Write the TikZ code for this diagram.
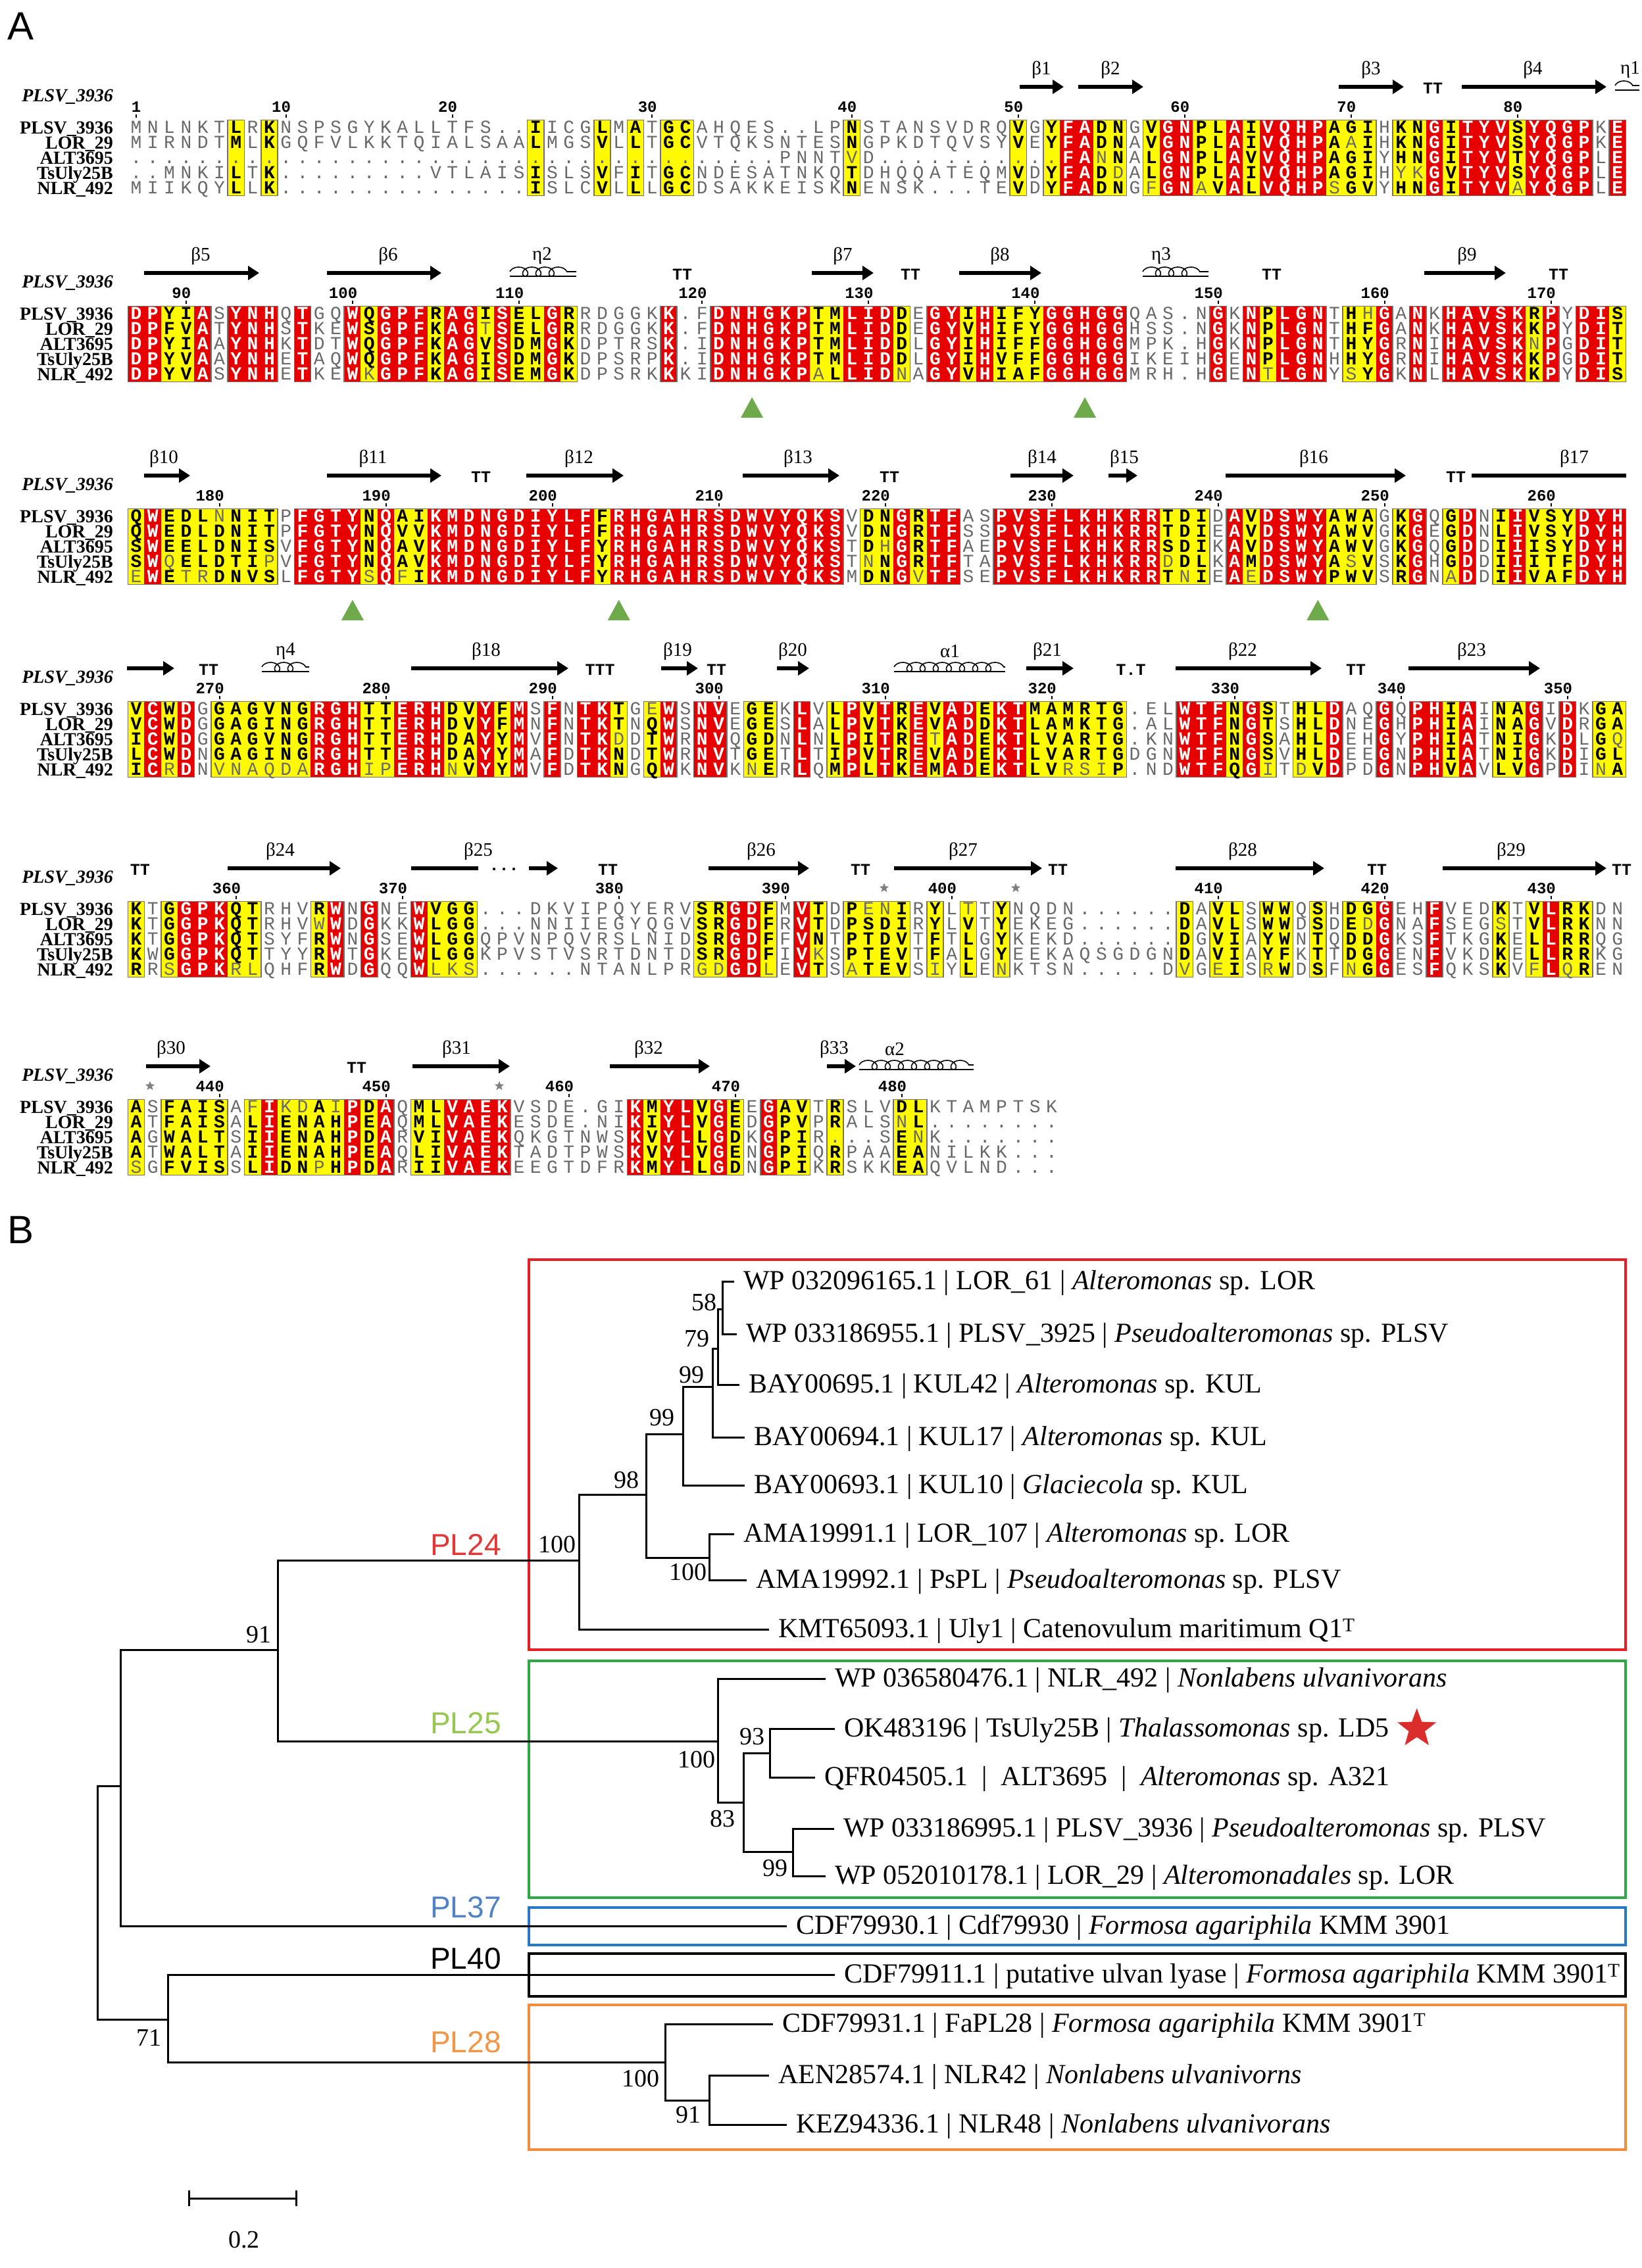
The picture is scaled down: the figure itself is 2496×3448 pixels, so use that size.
\documentclass[tikz,border=0pt]{standalone}
\usepackage{fontspec}
\setmainfont{Liberation Serif}
\newfontfamily\alnmono{Liberation Mono}
\newfontfamily\alnsans{Liberation Sans}
\usetikzlibrary{arrows.meta,decorations.pathmorphing,shapes.geometric}

\definecolor{alnred}{RGB}{230,0,0}
\definecolor{alnyel}{RGB}{255,250,0}
\definecolor{alnfr}{RGB}{120,110,110}
\definecolor{alngrey}{RGB}{105,105,105}
\definecolor{trigreen}{RGB}{110,170,75}
\definecolor{bxred}{RGB}{228,32,38}
\definecolor{bxgreen}{RGB}{45,170,70}
\definecolor{bxblue}{RGB}{40,120,200}
\definecolor{bxorange}{RGB}{240,140,60}
\definecolor{plred}{RGB}{225,55,55}
\definecolor{plgreen}{RGB}{150,200,80}
\definecolor{plblue}{RGB}{80,130,200}
\definecolor{plorange}{RGB}{240,150,70}
\definecolor{starred}{RGB}{220,45,45}

\makeatletter
\newcount\alncol
\newcount\alnrun
\def\alnY{0}
\def\alnpitch{25.3}
\def\alnxz{207}
% ---- column backgrounds and frames
\def\alnbg#1#2{\def\alnY{#1}\alncol=0 \alnrun=0 \alnbg@loop#2\@nil}
\def\alnbg@loop#1#2\@nil{%
  \advance\alncol by 1
  \if#1R\alnbg@fill{alnred}\alnbg@in\else
    \if#1Y\alnbg@fill{alnyel}\alnbg@in\else\alnbg@out\fi
  \fi
  \ifx\relax#2\relax
    \advance\alncol by 1 \alnbg@out
    \expandafter\@gobble
  \else\expandafter\@firstofone\fi
  {\alnbg@loop#2\@nil}}
\def\alnbg@fill#1{\fill[#1] ({\alnxz+(\the\alncol-1)*\alnpitch-12.9},{\alnY-11.6}) rectangle ({\alnxz+(\the\alncol-1)*\alnpitch+12.9},{\alnY+103.6});}
\def\alnbg@in{\ifnum\alnrun=0 \alnrun=\alncol\fi}
\def\alnbg@out{\ifnum\alnrun>0
  \draw[alnframe] ({\alnxz+(\the\alnrun-1)*\alnpitch-12.65},{\alnY-11.5}) rectangle ({\alnxz+(\the\alncol-2)*\alnpitch+12.65},{\alnY+103.5});
  \alnrun=0 \fi}
% ---- residues
\def\alnseq#1#2#3{\def\alnY{#1}\alncol=0 \alnseq@loop#2\@nil#3----------\@nil}
\def\alnseq@loop#1#2\@nil#3#4\@nil{%
  \advance\alncol by 1
  \alncell{#1}{#3}%
  \ifx\relax#2\relax\expandafter\@gobble\else\expandafter\@firstofone\fi
  {\alnseq@loop#2\@nil#4\@nil}}
\def\alncell#1#2{%
  \def\alnsty{alnN}%
  \if#2R\def\alnsty{alnR}\fi
  \if#2Y\ifnum`#1>96 \else\def\alnsty{alnB}\fi\fi
  \if.#1\def\alnsty{alnN}\fi
  \uppercase{\def\alnch{#1}}%
  \expandafter\alnput\expandafter{\alnsty}}
\def\alnput#1{\node[#1] at ({\alnxz+(\the\alncol-1)*\alnpitch},{\alnY+8.5}) {\alnch};}
\makeatother

\newcommand\alnblock[7]{%
  \alnbg{#1}{#2}%
  \alnseq{#1}{#3}{#2}%
  \alnseq{#1+23}{#4}{#2}%
  \alnseq{#1+46}{#5}{#2}%
  \alnseq{#1+69}{#6}{#2}%
  \alnseq{#1+92}{#7}{#2}%
  \node[rowlab] at (172,{#1+9}) {PLSV\_3936};
  \node[rowlab] at (172,{#1+32}) {LOR\_29};
  \node[rowlab] at (172,{#1+55}) {ALT3695};
  \node[rowlab] at (172,{#1+78}) {TsUly25B};
  \node[rowlab] at (172,{#1+101}) {NLR\_492};
  \node[hdrname] at (172,{#1-40}) {PLSV\_3936};
}
\newcommand\sstrand[5]{\draw[strand] (#2,{#1-62}) -- (#3,{#1-62}); \node[sslab] at (#4,{#1-88}) {#5};}
\newcommand\sarrow[3]{\draw[strand] (#2,{#1-62}) -- (#3,{#1-62});}
\newcommand\sline[3]{\draw[strandline] (#2,{#1-62}) -- (#3,{#1-62});}
\newcommand\shelix[5]{\draw[helix] (#2,{#1-64}) -- (#3,{#1-64});
  \draw[line width=1.4pt] (#2,{#1-57}) -- (#3,{#1-57});
  \node[sslab] at (#4,{#1-88}) {#5};}
\newcommand\sturn[3]{\node[turn] at (#2,{#1-60}) {#3};}
\newcommand\snum[3]{\node[numlab] at ({207+(#2-1)*25.3+7.5},{#1-24}) {#3};
  \draw[alntick] ({207+(#2-1)*25.3},{#1-20}) -- ({207+(#2-1)*25.3},{#1-15});}
\newcommand\sstar[2]{\node[star, star points=5, star point ratio=2.3, fill=gray, inner sep=0pt, minimum size=15pt] at (#2,{#1-32}) {};}
\newcommand\stri[2]{\fill[trigreen] ({207+(#2-1)*25.3-17},{#1+158}) -- ({207+(#2-1)*25.3+17},{#1+158}) -- ({207+(#2-1)*25.3},{#1+127}) -- cycle;}

\begin{document}
\begin{tikzpicture}[x=1pt,y=-1pt,
  alnR/.style={anchor=base, inner sep=0pt, text=white, font=\alnmono\bfseries\fontsize{28}{28}\selectfont},
  alnB/.style={anchor=base, inner sep=0pt, text=black, font=\alnmono\bfseries\fontsize{28}{28}\selectfont},
  alnN/.style={anchor=base, inner sep=0pt, text=alngrey, font=\alnmono\fontsize{28}{28}\selectfont},
  alnframe/.style={draw=alnfr, line width=1.6pt},
  rowlab/.style={anchor=base east, inner sep=0pt, font=\bfseries\fontsize{28}{28}\selectfont},
  hdrname/.style={anchor=base east, inner sep=0pt, font=\bfseries\itshape\fontsize{28}{28}\selectfont},
  strand/.style={line width=6pt, -{Triangle[length=17pt,width=21pt]}},
  strandline/.style={line width=6pt},
  helix/.style={line width=1.6pt, decorate, decoration={coil, aspect=1.2, segment length=20pt, amplitude=7pt}},
  sslab/.style={inner sep=0pt, font=\fontsize{29}{29}\selectfont},
  turn/.style={inner sep=0pt, font=\alnmono\bfseries\fontsize{25}{25}\selectfont},
  numlab/.style={anchor=base east, inner sep=0pt, font=\alnmono\bfseries\fontsize{24}{24}\selectfont},
  alntick/.style={line width=2pt},
  branch/.style={line width=3pt, line cap=rect},
  leaf/.style={anchor=west, inner sep=0pt, text height=30pt, text depth=6pt, font=\fontsize{42}{42}\selectfont},
  boot/.style={inner sep=0pt, font=\fontsize{38}{38}\selectfont},
  clade/.style={inner sep=0pt, font=\alnsans\fontsize{46}{46}\selectfont},
  cladebox/.style={line width=4pt},
  panel/.style={inner sep=0pt, font=\alnsans\fontsize{60}{60}\selectfont}
]
\useasboundingbox (0,0) rectangle (2496,3448);
\fill[white] (0,0) rectangle (2496,3448);

\node[panel] (pA) at (32,40) {A};
\node[panel] (pB) at (32,1870) {B};

% ================= Block 1
\alnblock{194}
{------Y-Y- ---------- ----Y---Y- Y-YY------ ---Y------ ---Y-YRRYY -YRRYYRYRR RRYYY-YYRY RRRYRRRR-R}
{MNLNKTLRKN SPSGYKALLT FS..IICGLM ATGCAHQES. .LPNSTANSV DRQVGYFADN GVGNPLAIVQ HPAGIHKNGI TYVSYQGPKE}
{MIRNDTMLKG QFVLKKTQIA LSAALMGSVL LTGCVTQKSN TESNGPKDTQ VSYVEYFADN AVGNPLAIVQ HPAaIHKNGI TYVSYQGPKE}
{.......... .......... .......... .........P NNTvD..... ......FAnN ALGNPLAVVQ HPAGIYHNGI TYVTYQGPLE}
{..MNKILTK. ........VT LAISISLSVF ITGCNDESAT NKQTDHQQAT EQMVDYFADd ALGNPLAIVQ HPAGIHykGV TYVSYQGPLE}
{MIIKQYLLK. .......... ....ISLCVL LLGCDSAKKE ISKNENSK.. .TEVDYFADN GfGNaVALVQ HPsGVYHNGI TYVaYQGPLE}
\sstrand{194}{1550}{1617}{1583}{β1}
\sstrand{194}{1639}{1738}{1688}{β2}
\sstrand{194}{2035}{2134}{2084}{β3}
\sturn{194}{2178}{TT}
\sstrand{194}{2222}{2442}{2330}{β4}
\shelix{194}{2455}{2492}{2478}{η1}
\snum{194}{1}{1}\snum{194}{10}{10}\snum{194}{20}{20}\snum{194}{32}{30}\snum{194}{44}{40}
\snum{194}{54}{50}\snum{194}{64}{60}\snum{194}{74}{70}\snum{194}{84}{80}

% ================= Block 2
\alnblock{477}
{RRYYR-RRR- R--RYRRRYR RYRYYRY--- --R--RRRRR RYYRRRY-RR YRYYYRRRRR -----R-RYR RR-YYR-R-R RRRRYR-RRY}
{DPYIASYNHQ TGQWQGPFRA GISELGRRDG GKK.FDNHGK PTMLIDDEGY IHIFYGGHGG QAS.NGKNPL GNTHhGANKH AVSKRPYDIS}
{DPFVATYNHS TKEWSGPFKA GtSELGRRDG GKK.FDNHGK PTMLIDDEGY VHIFYGGHGG HSS.NGKNPL GNTHFGANKH AVSKKPYDIT}
{DPYIAAYNHK TDTWQGPFKA GVSDMGKDPT RSK.IDNHGK PTMLIDDLGY IHIFFGGHGG MPK.HGKNPL GNTHYGRNIH AVSKnPGDIT}
{DPYVAAYNHE TAQWQGPFKA GISDMGKDPS RPK.IDNHGK PTMLIDDLGY IHVFFGGHGG IKEIHGENPL GNHHYGRNIH AVSKKPGDIT}
{DPYVASYNHE TKEWkGPFKA GISEMGKDPS RKKKIDNHGK PaLLIDnAGY VHIAFGGHGG MRH.HGENtL GNYsYGKNLH AVSKKPYDIS}
\sstrand{477}{219}{394}{305}{β5}
\sstrand{477}{497}{671}{590}{β6}
\shelix{477}{775}{876}{824}{η2}
\sturn{477}{1037}{TT}
\sstrand{477}{1234}{1328}{1281}{β7}
\sturn{477}{1384}{TT}
\sstrand{477}{1458}{1583}{1520}{β8}
\shelix{477}{1737}{1837}{1765}{η3}
\sturn{477}{1933}{TT}
\sstrand{477}{2165}{2289}{2230}{β9}
\sturn{477}{2369}{TT}
\snum{477}{4}{90}\snum{477}{14}{100}\snum{477}{24}{110}\snum{477}{35}{120}\snum{477}{45}{130}
\snum{477}{55}{140}\snum{477}{66}{150}\snum{477}{76}{160}\snum{477}{86}{170}
\stri{477}{38}\stri{477}{58}

% ================= Block 3
\alnblock{785}
{YRYYYYYYY- RRRRYRYYRR RRRRRRRRYR RRRRRRRRRR RRR-YYRYRR --RRRRRRRR RRYYY-RYRR RRYYY-YR-Y R-YRYYYRRR}
{QWEDLnNITP FGTYNQAIKM DNGDIYLFFR HGAHRSDWVY QKSVDNGRTF ASPVSFLKHK RRTDIDAVDS WYAWAGKGQG DNIIVSYDYH}
{QWEDLDNITP FGTYNQVVKM DNGDIYLFFR HGAHRSDWVY QKSVDNGRTF SSPVSFLKHK RRTDIEAVDS WYAWVGKGEG DNLIVSYDYH}
{SWEELDNISV FGTYNQAVKM DNGDIYLFYR HGAHRSDWVY QKSTDhGRTF AEPVSFLKHK RRSDIKAVDS WYAWVGKGQG DDIIISYDYH}
{SWqELDTIpV FGTYNQAVKM DNGDIYLFYR HGAHRSDWVY QKSTnNGRTF TAPVSFLKHK RRdDLKAMDS WYAsVSKGHG DDIIITFDYH}
{eWEtrDNVSL FGTYsQfIKM DNGDIYLFYR HGAHRSDWVY QKSMDNGvTF SEPVSFLKHK RRTnIEAeDS WYPWVSRGNa DDIIVAFDYH}
\sstrand{785}{219}{289}{249}{β10}
\sstrand{785}{497}{671}{567}{β11}
\sturn{785}{731}{TT}
\sstrand{785}{800}{948}{880}{β12}
\sstrand{785}{1129}{1276}{1213}{β13}
\sturn{785}{1352}{TT}
\sstrand{785}{1536}{1632}{1584}{β14}
\sstrand{785}{1685}{1729}{1709}{β15}
\sstrand{785}{1863}{2137}{1997}{β16}
\sturn{785}{2213}{TT}
\sline{785}{2237}{2472}
\node[sslab] (b17) at (2393,{785-88}) {β17};
\snum{785}{6}{180}\snum{785}{16}{190}\snum{785}{26}{200}\snum{785}{36}{210}\snum{785}{46}{220}
\snum{785}{56}{230}\snum{785}{66}{240}\snum{785}{76}{250}\snum{785}{86}{260}
\stri{785}{14}\stri{785}{30}\stri{785}{72}

% ================= Block 4
\alnblock{1078}
{YRYR-YYYYY YRRRYYRRRY YRYR-R-RRY -YR-RR-YY- R-YRYRYRYR RYRRYYYYYY ---RRRYRY- YYR--R-RRY R-YYR-R-YY}
{VCWDGGAGVN GRGHTTERHD VYFMSFNTKT GeWSNVEGEK LVLPVTREVA DEKTMAMRTG .ELWTFNGST HLDAQGQPHI AINAGIDKGA}
{VCWDGGAGIN GRGHTTERHD VYFMNFNTKT NQWSNVEGES LALPVTKEVA DDKTLAMKTG .ALWTFNGTS HLDNEGHPHI AINAGVDRGA}
{ICWDGGAGVN GRGHTTERHD AYYMVFNTKd DTWRNVQGDN LNLPITREtA DEKTLVARTG .KNWTFNGSA HLDEHGYPHI ATNIGKDLGq}
{LCWDNGAGIN GRGHTTERHD AYYMAFDTKN DTWRNVTGET LTIPVTREVA DEKTLVARTG DGNWTFNGSV HLDEEGNPHI ATNIGKDIGL}
{ICrDNvnaqd aRGHipERHn VYYMVFDTKN GQWKNVKnER LQMPLTKEMA DEKTLVrsiP .NDWTFQGiT dVDPDGNPHV AVLVGPDInA}
\sarrow{1078}{193}{265}
\sturn{1078}{317}{TT}
\shelix{1078}{398}{470}{434}{η4}
\sstrand{1078}{625}{864}{739}{β18}
\sturn{1078}{912}{TTT}
\sstrand{1078}{1005}{1061}{1030}{β19}
\sturn{1078}{1089}{TT}
\sstrand{1078}{1181}{1230}{1205}{β20}
\shelix{1078}{1359}{1528}{1444}{α1}
\sstrand{1078}{1560}{1632}{1592}{β21}
\sturn{1078}{1719}{T.T}
\sstrand{1078}{1787}{2009}{1889}{β22}
\sturn{1078}{2061}{TT}
\sstrand{1078}{2141}{2341}{2237}{β23}
\snum{1078}{6}{270}\snum{1078}{16}{280}\snum{1078}{26}{290}\snum{1078}{36}{300}\snum{1078}{46}{310}
\snum{1078}{56}{320}\snum{1078}{67}{330}\snum{1078}{77}{340}\snum{1078}{87}{350}

% ================= Block 5
\alnblock{1382}
{Y-YRRRYY-- -YR-R--RYY Y--------- ----YYRRY- RY-YYYY-Y- Y-Y------- ---Y-YY-YY -Y-YYR--R- --Y-YRYY--}
{KTGGPKQTRH VRWNGNEWVG G...DKVIPQ YERVSRGDFM VTDPenIRYL tTYNQDN... ...DAVLSWW QSHDGGEHFV EDKTVLRKDN}
{KTGGPKQTRH VwWDGKKWLG G...NNIIEG YQGVSRGDFR VTDPSDIRYL VTYEKEG... ...DAVLSWW DSDEdGNAFS EGsTVLRKNN}
{KTGGPKQTSY FRWNGSEWLG GQPVNPQVRS LNIDSRGDFF VNTPTDVTFT LGYKEKD... ...DGVIAYW NTQDDGKSFT KGKELLRRQG}
{KWGGPKQTTY YRWTGKEWLG GKPVSTVSRT DNTDSRGDFI VkSPTEVTFA LGYEEKAQSG DGNDAVIAYF KTTDGGENFV KDKELLRRKG}
{RRsGPKrlQH FRWDGQQWlk s......NTA NLPRgdGDlE VTSaTEVSiY LEnKTSN... ..DvGeISrW DSFnGGESFQ KSKVfLqREN}
\sturn{1382}{213}{TT}
\sstrand{1382}{346}{518}{426}{β24}
\sline{1382}{625}{727}
\node[turn] (dots25) at (766,{1382-60}) {...};
\sarrow{1382}{804}{848}
\node[sslab] (b25) at (727,{1382-88}) {β25};
\sturn{1382}{924}{TT}
\sstrand{1382}{1077}{1230}{1157}{β26}
\sturn{1382}{1308}{TT}
\sstrand{1382}{1359}{1584}{1464}{β27}
\sturn{1382}{1608}{TT}
\sstrand{1382}{1787}{2013}{1889}{β28}
\sturn{1382}{2093}{TT}
\sstrand{1382}{2193}{2442}{2297}{β29}
\sturn{1382}{2465}{TT}
\snum{1382}{7}{360}\snum{1382}{17}{370}\snum{1382}{30}{380}\snum{1382}{40}{390}\snum{1382}{50}{400}
\snum{1382}{66}{410}\snum{1382}{76}{420}\snum{1382}{86}{430}
\sstar{1382}{1344}\sstar{1382}{1544}

% ================= Block 6
\alnblock{1683}
{Y-YYYY-YRY YYYRYR-YYR RRR------- RYRRYRY-RY Y-Y---YY-- ------}
{ASFAISAfIk dAiPDAQMLV AEKVSDE.GI KMYLVGEEGA VTRSLVDLKT AMPTSK}
{ATFAISALIE NAHPEAQMLV AEKESDE.NI KIYLVGEDGP VPRALSnL.. ......}
{AGWALTSIIE NAHPDARVIV AEKQKGTNWS KVYLLGDKGP IR...SEnK. ......}
{ATWALTAIIE NAHPEAQLIV AEKTADTPWS KVYLVGENGP IQRPAAEANI LKK...}
{sGFVISSLID NpHPDARIIV AEKEEGTDFR KMYLLGDNGP IKRSKKEAQV LND...}
\sstrand{1683}{222}{320}{260}{β30}
\sturn{1683}{542}{TT}
\sstrand{1683}{627}{775}{694}{β31}
\sstrand{1683}{927}{1079}{986}{β32}
\sstrand{1683}{1257}{1301}{1268}{β33}
\shelix{1683}{1306}{1480}{1360}{α2}
\snum{1683}{6}{440}\snum{1683}{16}{450}\snum{1683}{27}{460}\snum{1683}{37}{470}\snum{1683}{47}{480}
\sstar{1683}{228}\sstar{1683}{759}

% ================= Tree (panel B)
\draw[cladebox, draw=bxred] (804,1915) rectangle (2471,2508);
\draw[cladebox, draw=bxgreen] (804,2525) rectangle (2471,2885);
\draw[cladebox, draw=bxblue] (804,2900) rectangle (2471,2957);
\draw[cladebox, draw=black] (804,2970) rectangle (2471,3035);
\draw[cladebox, draw=bxorange] (804,3048) rectangle (2471,3268);

\node[clade, text=plred] (PL24) at (708,2348) {PL24};
\node[clade, text=plgreen] (PL25) at (708,2620) {PL25};
\node[clade, text=plblue] (PL37) at (708,2900) {PL37};
\node[clade, text=black] (PL40) at (708,2978) {PL40};
\node[clade, text=plorange] (PL28) at (708,3105) {PL28};

\node[leaf] (lLOR61) at (1130,1948) {WP 032096165.1 | LOR\_61 | \textit{Alteromonas} sp. LOR};
\node[leaf] (lPLSV3925) at (1134,2028) {WP 033186955.1 | PLSV\_3925 | \textit{Pseudoalteromonas} sp. PLSV};
\node[leaf] (lBAY95) at (1138,2105) {BAY00695.1 | KUL42 | \textit{Alteromonas} sp. KUL};
\node[leaf] (lBAY94) at (1146,2185) {BAY00694.1 | KUL17 | \textit{Alteromonas} sp. KUL};
\node[leaf] (lBAY93) at (1146,2258) {BAY00693.1 | KUL10 | \textit{Glaciecola} sp. KUL};
\node[leaf] (lAMA91) at (1130,2332) {AMA19991.1 | LOR\_107 | \textit{Alteromonas} sp. LOR};
\node[leaf] (lAMA92) at (1149,2402) {AMA19992.1 | PsPL | \textit{Pseudoalteromonas} sp. PLSV};
\node[leaf] (lKMT) at (1183,2477) {KMT65093.1 | Uly1 | Catenovulum maritimum Q1\textsuperscript{T}};
\node[leaf] (lNLR492) at (1269,2552) {WP 036580476.1 | NLR\_492 | \textit{Nonlabens ulvanivorans}};
\node[leaf] (lOK) at (1283,2628) {OK483196 | TsUly25B | \textit{Thalassomonas} sp. LD5};
\node[leaf] (lQFR) at (1253,2702) {QFR04505.1 \ | \ ALT3695 \ | \ \textit{Alteromonas} sp. A321};
\node[leaf] (lWP36) at (1282,2780) {WP 033186995.1 | PLSV\_3936 | \textit{Pseudoalteromonas} sp. PLSV};
\node[leaf] (lWP29) at (1269,2852) {WP 052010178.1 | LOR\_29 | \textit{Alteromonadales} sp. LOR};
\node[leaf] (lCDF30) at (1210,2928) {CDF79930.1 | Cdf79930 | \textit{Formosa agariphila} KMM 3901};
\node[leaf] (lCDF11) at (1283,3002) {CDF79911.1 | putative ulvan lyase | \textit{Formosa agariphila} KMM 3901\textsuperscript{T}};
\node[leaf] (lCDF31) at (1189,3077) {CDF79931.1 | FaPL28 | \textit{Formosa agariphila} KMM 3901\textsuperscript{T}};
\node[leaf] (lAEN) at (1183,3155) {AEN28574.1 | NLR42 | \textit{Nonlabens ulvanivorns}};
\node[leaf] (lKEZ) at (1210,3230) {KEZ94336.1 | NLR48 | \textit{Nonlabens ulvanivorans}};

\node[star, star points=5, star point ratio=2.4, fill=starred, inner sep=0pt, minimum size=62pt] (star) at ([xshift=42pt]lOK.east) {};

\coordinate (R) at (148,2715);
\coordinate (nA) at (183,2715);
\coordinate (n91) at (422,2508);
\coordinate (n100a) at (880,2372);
\coordinate (n98) at (982,2272);
\coordinate (n99b) at (1038,2180);
\coordinate (n99a) at (1083,2108);
\coordinate (n79) at (1091,2050);
\coordinate (n58) at (1098,1990);
\coordinate (n100b) at (1078,2368);
\coordinate (n100c) at (1091,2647);
\coordinate (n83) at (1130,2740);
\coordinate (n93) at (1170,2665);
\coordinate (n99c) at (1205,2815);
\coordinate (n71) at (255,3070);
\coordinate (n100d) at (1011,3135);
\coordinate (n91b) at (1078,3193);

\draw[branch] (R) |- (nA);
\draw[branch] (R) |- (n71);
\draw[branch] (nA) |- (n91);
\draw[branch] (nA) |- ([xshift=-16pt]lCDF30.west);
\draw[branch] (n91) |- (n100a);
\draw[branch] (n91) |- (n100c);
\draw[branch] (n100a) |- (n98);
\draw[branch] (n100a) |- ([xshift=-16pt]lKMT.west);
\draw[branch] (n98) |- (n99b);
\draw[branch] (n98) |- (n100b);
\draw[branch] (n99b) |- (n99a);
\draw[branch] (n99b) |- ([xshift=-16pt]lBAY93.west);
\draw[branch] (n99a) |- (n79);
\draw[branch] (n99a) |- ([xshift=-16pt]lBAY94.west);
\draw[branch] (n79) |- (n58);
\draw[branch] (n79) |- ([xshift=-16pt]lBAY95.west);
\draw[branch] (n58) |- ([xshift=-16pt]lLOR61.west);
\draw[branch] (n58) |- ([xshift=-16pt]lPLSV3925.west);
\draw[branch] (n100b) |- ([xshift=-16pt]lAMA91.west);
\draw[branch] (n100b) |- ([xshift=-16pt]lAMA92.west);
\draw[branch] (n100c) |- ([xshift=-16pt]lNLR492.west);
\draw[branch] (n100c) |- (n83);
\draw[branch] (n83) |- (n93);
\draw[branch] (n83) |- (n99c);
\draw[branch] (n93) |- ([xshift=-16pt]lOK.west);
\draw[branch] (n93) |- ([xshift=-16pt]lQFR.west);
\draw[branch] (n99c) |- ([xshift=-16pt]lWP36.west);
\draw[branch] (n99c) |- ([xshift=-16pt]lWP29.west);
\draw[branch] (n71) |- ([xshift=-16pt]lCDF11.west);
\draw[branch] (n71) |- (n100d);
\draw[branch] (n100d) |- ([xshift=-16pt]lCDF31.west);
\draw[branch] (n100d) |- (n91b);
\draw[branch] (n91b) |- ([xshift=-16pt]lAEN.west);
\draw[branch] (n91b) |- ([xshift=-16pt]lKEZ.west);

\node[boot] (bs58) at (1070,1980) {58};
\node[boot] (bs79) at (1059,2035) {79};
\node[boot] (bs99a) at (1051,2090) {99};
\node[boot] (bs99b) at (1006,2155) {99};
\node[boot] (bs98) at (952,2250) {98};
\node[boot] (bs100a) at (847,2348) {100};
\node[boot] (bs100b) at (1046,2390) {100};
\node[boot] (bs91) at (393,2485) {91};
\node[boot] (bs100c) at (1059,2675) {100};
\node[boot] (bs93) at (1143,2640) {93};
\node[boot] (bs83) at (1098,2765) {83};
\node[boot] (bs99c) at (1178,2840) {99};
\node[boot] (bs71) at (226,3098) {71};
\node[boot] (bs100d) at (974,3160) {100};
\node[boot] (bs91b) at (1046,3215) {91};

\coordinate (sbL) at (287,3342);
\coordinate (sbR) at (450,3342);
\draw[line width=3pt] (sbL) -- (sbR);
\draw[line width=3pt] ([yshift=12pt]sbL) -- ([yshift=-12pt]sbL);
\draw[line width=3pt] ([yshift=12pt]sbR) -- ([yshift=-12pt]sbR);
\node[boot] (sblab) at (371,3405) {0.2};
\end{tikzpicture}
\end{document}
